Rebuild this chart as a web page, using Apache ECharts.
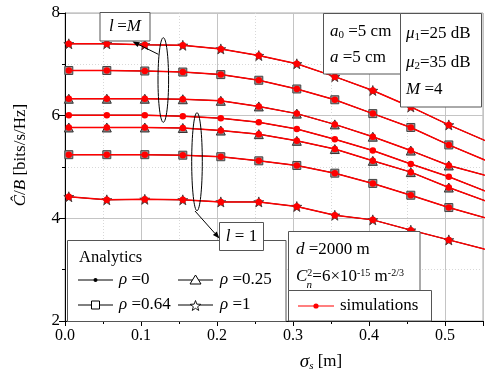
<!DOCTYPE html>
<html><head><meta charset="utf-8">
<script src="https://cdn.jsdelivr.net/npm/echarts@6/dist/echarts.min.js"></script>
<style>html,body{margin:0;padding:0;background:#fff}#c{width:485px;height:383px}</style>
</head><body><div id="c"></div>
<script>
// sigma_s [m]
const sigma = [0.005,0.055,0.105,0.155,0.205,0.255,0.305,0.355,0.405,0.455,0.505,0.555];
// C/B [bits/s/Hz]
const lM_rho1    = [7.40,7.40,7.38,7.37,7.30,7.17,7.01,6.76,6.49,6.17,5.82,5.50];
const lM_rho064  = [6.88,6.88,6.87,6.85,6.80,6.69,6.52,6.31,6.04,5.77,5.43,5.12];
const lM_rho025  = [6.33,6.33,6.33,6.32,6.29,6.18,6.04,5.83,5.59,5.32,5.03,4.83];
const rho0       = [6.01,6.01,6.01,5.99,5.95,5.87,5.74,5.54,5.32,5.06,4.81,4.52];
const l1_rho025  = [5.77,5.77,5.77,5.76,5.71,5.64,5.51,5.35,5.12,4.90,4.60,4.33];
const l1_rho064  = [5.24,5.24,5.24,5.23,5.20,5.12,5.03,4.88,4.68,4.45,4.21,4.00];
const l1_rho1    = [4.42,4.36,4.37,4.36,4.32,4.32,4.23,4.06,3.97,3.77,3.58,3.39];
const xTicks = [0.0,0.1,0.2,0.3,0.4,0.5];
const yTicks = [2,4,6,8];

const FONT = 'Liberation Serif';
const STAR = 'path://M0,-10 L2.35,-3.24 L9.51,-3.09 L3.8,1.24 L5.88,8.09 L0,4 L-5.88,8.09 L-3.8,1.24 L-9.51,-3.09 L-2.35,-3.24 Z';
const pairs = a => sigma.map((s,i)=>[s,a[i]]);

const curves = [
  {d:lM_rho1, m:'star'}, {d:lM_rho064, m:'square'}, {d:lM_rho025, m:'tri'},
  {d:rho0, m:'dot'}, {d:l1_rho025, m:'tri'}, {d:l1_rho064, m:'square'}, {d:l1_rho1, m:'star'}
];
const markerStyle = {
  star:  {symbol:STAR, symbolSize:10, itemStyle:{color:'#e00000', borderColor:'#333', borderWidth:0.8}},
  square:{symbol:'rect', symbolSize:8, itemStyle:{color:'#999', borderColor:'#444', borderWidth:1}},
  tri:   {symbol:'triangle', symbolSize:9, itemStyle:{color:'#888', borderColor:'#333', borderWidth:1}},
  dot:   {symbol:'circle', symbolSize:4, itemStyle:{color:'#000'}}
};
const series = [];
curves.forEach(c=>{
  const ms = markerStyle[c.m];
  series.push({type:'line', data:pairs(c.d), symbol:ms.symbol, symbolSize:ms.symbolSize, showAllSymbol:true,
    lineStyle:{color:'#000', width:1}, itemStyle:ms.itemStyle, z:2, animation:false, silent:true});
});
curves.forEach(c=>{
  series.push({type:'line', data:pairs(c.d), symbol:'circle', symbolSize:6.5, showAllSymbol:true,
    lineStyle:{color:'#ff0000', width:1.5}, itemStyle:{color:'#ff0000'}, z:3, animation:false, silent:true});
});

const sub = {fontFamily:FONT, fontSize:11, verticalAlign:'bottom', lineHeight:12, padding:[9,0,0,0]};
const sup = {fontFamily:FONT, fontSize:10, verticalAlign:'top', lineHeight:12, padding:[0,0,9,0]};
const rich = {
  i:{fontFamily:FONT, fontSize:17, fontStyle:'italic', color:'#000'},
  n:{fontFamily:FONT, fontSize:17, color:'#000'},
  sub:sub, sup:sup,
  isub:Object.assign({}, sub, {fontStyle:'italic'})
};
function box(x,y,w,h){return {type:'rect', shape:{x:x,y:y,width:w,height:h}, style:{fill:'#fff', stroke:'#555', lineWidth:1}, z:100};}
function txt(x,y,t,opt){return Object.assign({type:'text', x:x, y:y, style:{text:t, rich:rich, fontFamily:FONT, fontSize:17, fill:'#000', verticalAlign:'middle', align:'left'}, z:101}, opt||{});}
function arrow(x1,y1,x2,y2){
  const a=Math.atan2(y2-y1,x2-x1), L=7, W=2.6;
  const bx=x2-L*Math.cos(a), by=y2-L*Math.sin(a);
  return [
    {type:'line', shape:{x1:x1,y1:y1,x2:bx,y2:by}, style:{stroke:'#000', lineWidth:1}, z:102},
    {type:'polygon', shape:{points:[[x2,y2],[bx+W*Math.sin(a),by-W*Math.cos(a)],[bx-W*Math.sin(a),by+W*Math.cos(a)]]}, style:{fill:'#000'}, z:102}
  ];
}
function legLine(x,y,sym){
  const els=[{type:'line', shape:{x1:x,y1:y,x2:x+35,y2:y}, style:{stroke:'#000', lineWidth:1}, z:102}];
  const cx=x+17.5;
  if(sym==='dot') els.push({type:'circle', shape:{cx:cx,cy:y,r:2}, style:{fill:'#000'}, z:103});
  if(sym==='tri') els.push({type:'polygon', shape:{points:[[cx,y-5],[cx+5.5,y+4],[cx-5.5,y+4]]}, style:{fill:'#fff', stroke:'#000', lineWidth:1}, z:103});
  if(sym==='square') els.push({type:'rect', shape:{x:cx-4,y:y-4,width:8,height:8}, style:{fill:'#fff', stroke:'#000', lineWidth:1}, z:103});
  if(sym==='star'){
    const pts=[];for(let k=0;k<10;k++){const r=k%2?2.3:5.5, t=-Math.PI/2+k*Math.PI/5;pts.push([cx+r*Math.cos(t),y+1+r*Math.sin(t)]);}
    els.push({type:'polygon', shape:{points:pts}, style:{fill:'#fff', stroke:'#000', lineWidth:0.9}, z:103});
  }
  return els;
}

const graphics = [].concat(
  [ {type:'ellipse', shape:{cx:163.3, cy:80, rx:5.3, ry:42.3}, style:{fill:'none', stroke:'#000', lineWidth:1}, z:102},
    {type:'ellipse', shape:{cx:197, cy:161.7, rx:5.3, ry:49}, style:{fill:'none', stroke:'#000', lineWidth:1}, z:102} ],
  arrow(158.3,54.3,132.5,41.5),
  arrow(195,211,219.5,238.5),
  [ box(100,12.5,50,28.5), txt(125,27,'{i|l} {n|=}{i|M}',{style:{text:'{i|l} {n|=}{i|M}', rich:rich, align:'center', verticalAlign:'middle'}}) ],
  [ box(323.5,13.5,77,60.5),
    txt(330,32,'{i|a}{sub|0}{n| =5 cm}'),
    txt(330,58,'{i|a}{n| =5 cm}'),
    box(400.5,13.5,81,93.5),
    txt(406,34,'{i|μ}{sub|1}{n|=25 dB}'),
    txt(406,63,'{i|μ}{sub|2}{n|=35 dB}'),
    txt(406,90,'{i|M}{n| =4}') ],
  [ box(67.5,240.5,218.5,81),
    txt(79,258,'Analytics',{style:{text:'Analytics', fontFamily:FONT, fontSize:16.5, fill:'#000', verticalAlign:'middle'}}) ],
  legLine(78,280,'dot'), [txt(119,280,'{i|ρ}{n| =0}')],
  legLine(178,280,'tri'), [txt(220,280,'{i|ρ}{n| =0.25}')],
  legLine(78,305,'square'), [txt(119,305,'{i|ρ}{n| =0.64}')],
  legLine(178,305,'star'), [txt(220,305,'{i|ρ}{n| =1}')],
  [ box(219.5,222.5,44,28), txt(241.5,237,'',{style:{text:'{i|l}{n| = 1}', rich:rich, align:'center', verticalAlign:'middle'}}) ],
  [ box(288.5,231.5,131.5,59),
    txt(296,250,'{i|d}{n| =2000 m}'),
    txt(296,277,'{i|C}{sup|2}{n|=6×10}{sup|-15}{n| m}{sup|-2/3}'),
    {type:'text', x:306.5, y:285, style:{text:'n', fontFamily:FONT, fontSize:11, fontStyle:'italic', fill:'#000', verticalAlign:'middle'}, z:102},
    box(288.5,290.5,143,30.5),
    {type:'line', shape:{x1:298,y1:306,x2:334,y2:306}, style:{stroke:'#ff0000', lineWidth:1.2}, z:102},
    {type:'circle', shape:{cx:316,cy:306,r:2.6}, style:{fill:'#ff0000'}, z:103},
    txt(340,306,'simulations') ],
  [ {type:'text', x:21, y:155, rotation:Math.PI/2, style:{text:'{i|Ĉ}{n|/}{i|B}{n| [bits/s/Hz]}', rich:rich, align:'center', verticalAlign:'middle'}, z:101},
    {type:'text', x:321, y:362, style:{text:'{ib|σ}{isub2|s}{n| [m]}', rich:Object.assign({}, rich, {ib:{fontFamily:FONT,fontSize:19,fontStyle:'italic',color:'#000'}, isub2:{fontFamily:FONT,fontSize:11,fontStyle:'italic',verticalAlign:'bottom',lineHeight:12,padding:[10,0,0,0]}}), align:'center', verticalAlign:'middle'}, z:101} ]
);

const chart = echarts.init(document.getElementById('c'), null, {renderer:'canvas'});
chart.setOption({
  animation:false,
  grid:{left:65, right:2, top:13, bottom:62, show:true, borderColor:'#aaa', borderWidth:1, backgroundColor:'transparent'},
  xAxis:{type:'value', min:0, max:0.55, interval:0.1,
    axisLine:{show:true, onZero:false, lineStyle:{color:'#000', width:1}},
    axisTick:{show:true, length:5, inside:false, lineStyle:{color:'#000'}},
    minorTick:{show:true, splitNumber:2, length:3, lineStyle:{color:'#000'}},
    axisLabel:{color:'#000', fontFamily:FONT, fontSize:16, margin:7, showMaxLabel:false,
      formatter:v=> xTicks.some(t=>Math.abs(t-v)<1e-9) ? v.toFixed(1) : ''},
    splitLine:{show:true, lineStyle:{color:'#c4c4c4', width:1}},
    minorSplitLine:{show:true, lineStyle:{color:'#d8d8d8', type:[1,2], width:1}}
  },
  yAxis:{type:'value', min:2, max:8, interval:2,
    axisLine:{show:true, onZero:false, lineStyle:{color:'#000', width:1}},
    axisTick:{show:true, length:6, lineStyle:{color:'#000'}},
    minorTick:{show:true, splitNumber:2, length:3, lineStyle:{color:'#000'}},
    axisLabel:{color:'#000', fontFamily:FONT, fontSize:17, margin:5,
      formatter:v=> yTicks.indexOf(v)>=0 ? String(v) : ''},
    splitLine:{show:true, lineStyle:{color:'#c4c4c4', width:1}},
    minorSplitLine:{show:true, lineStyle:{color:'#d8d8d8', type:[1,2], width:1}}
  },
  series:series,
  graphic:{elements:graphics}
});
</script></body></html>
